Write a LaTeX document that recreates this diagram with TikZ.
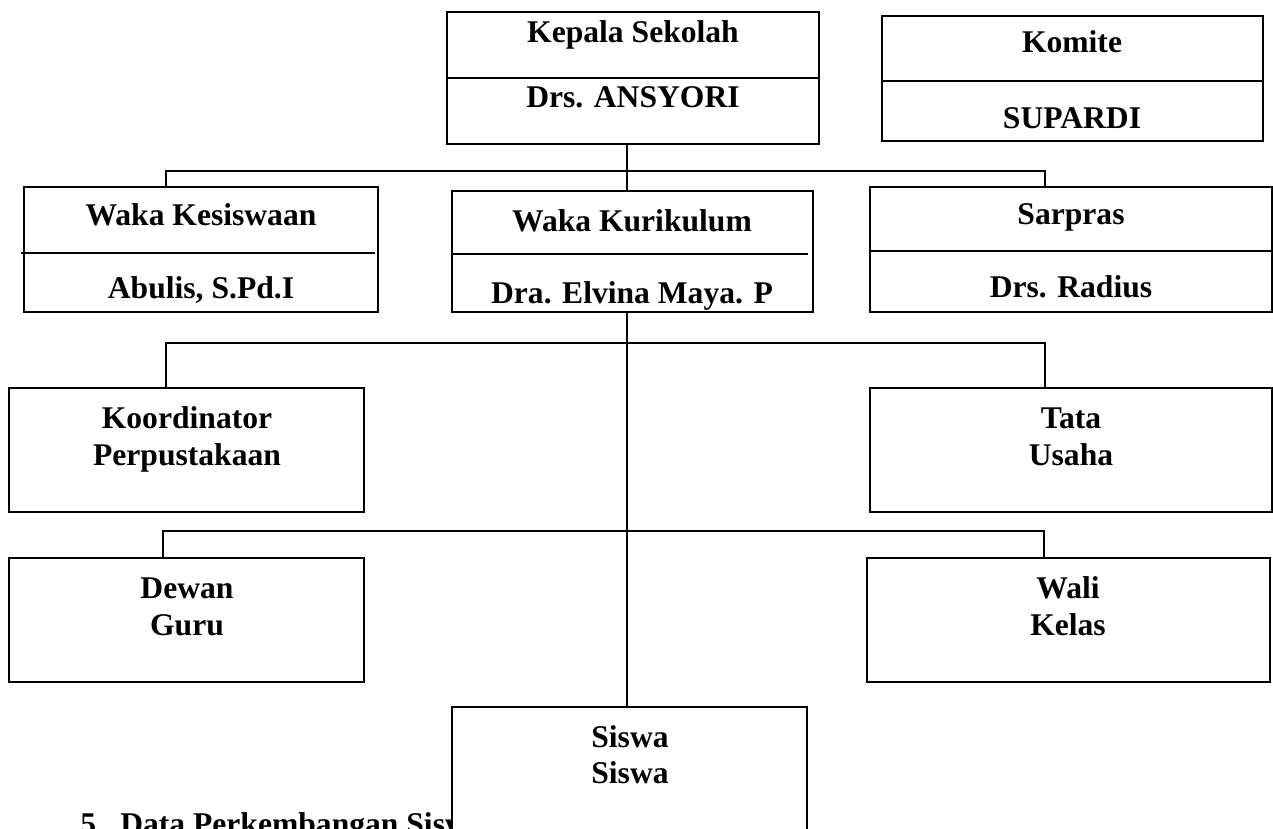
\documentclass[tikz,border=0pt]{standalone}
\usepackage{fontspec}
\setmainfont{Liberation Serif}
\begin{document}
\begin{tikzpicture}[x=0.5pt,y=-0.5pt,
  orgbox/.style={draw, line width=1pt, fill=white, inner sep=0pt, outer sep=0pt, anchor=north west},
  divline/.style={line width=1pt},
  conn/.style={line width=1pt},
  lbl/.style={font=\bfseries\fontsize{15.8}{18.5}\selectfont, inner sep=0pt, anchor=base}]
\useasboundingbox (0,0) rectangle (1273,829);
\clip (0,0) rectangle (1273,829);
\fill[white] (0,0) rectangle (1273,829);

% boxes
\node[orgbox, line width=1.2pt, minimum width=186pt, minimum height=66pt] (kepala) at (447,12) {};
\node[orgbox, line width=1.2pt, minimum width=190.5pt, minimum height=62.5pt] (komite) at (882,16) {};
\node[orgbox, minimum width=177pt, minimum height=62.5pt] (kesiswaan) at (24,187) {};
\node[orgbox, minimum width=180.5pt, minimum height=60.5pt] (kurikulum) at (452,191) {};
\node[orgbox, minimum width=201pt, minimum height=62.5pt] (sarpras) at (870,187) {};
\node[orgbox, minimum width=177.5pt, minimum height=62pt] (koord) at (9,388) {};
\node[orgbox, minimum width=201pt, minimum height=62pt] (tata) at (870,388) {};
\node[orgbox, minimum width=177.5pt, minimum height=62pt] (dewan) at (9,558) {};
\node[orgbox, minimum width=201.5pt, minimum height=62pt] (wali) at (867,558) {};

% dividers
\draw[divline] (447,78) -- (819,78);
\draw[divline] (882,81) -- (1263,81);
\draw[divline] (21,253) -- (375,253);
\draw[divline] (452,254) -- (808,254);
\draw[divline] (870,251) -- (1272,251);

% bottom text (partly hidden by the Siswa box)
\begin{scope}
\clip (0,700) rectangle (451,829);
\node[lbl, anchor=base west] (datatxt) at (80,834) {5.\hspace{8.1pt}Data Perkembangan Siswa};
\end{scope}

\node[orgbox, minimum width=177.5pt, minimum height=100pt] (siswa) at (452,707) {};

% connectors
\coordinate (trunk) at (627,0);
\coordinate (b1L) at (166,171);
\coordinate (b1R) at (1045,171);
\coordinate (b2L) at (166,343);
\coordinate (b2R) at (1045,343);
\coordinate (b3L) at (163,531);
\coordinate (b3R) at (1044,531);
\draw[conn] (kepala.south -| trunk) -- (kurikulum.north -| trunk);
\draw[conn] (kurikulum.south -| trunk) -- (siswa.north -| trunk);
\draw[conn] (kesiswaan.north -| b1L) -- (b1L) -- (b1R) -- (sarpras.north -| b1R);
\draw[conn] (koord.north -| b2L) -- (b2L) -- (b2R) -- (tata.north -| b2R);
\draw[conn] (dewan.north -| b3L) -- (b3L) -- (b3R) -- (wali.north -| b3R);

% labels
\node[lbl] (kepalaA) at (633,43) {Kepala Sekolah};
\node[lbl] (kepalaB) at (633,107) {Drs. ANSYORI};
\node[lbl] (komiteA) at (1072,53) {Komite};
\node[lbl] (komiteB) at (1072,128) {SUPARDI};
\node[lbl] (kesA) at (201,225) {Waka Kesiswaan};
\node[lbl] (kesB) at (201,298) {Abulis, S.Pd.I};
\node[lbl] (kurA) at (632,231) {Waka Kurikulum};
\node[lbl] (kurB) at (632,303) {Dra. Elvina Maya. P};
\node[lbl] (sarA) at (1071,224) {Sarpras};
\node[lbl] (sarB) at (1071,297) {Drs. Radius};
\node[lbl] (koordA) at (187,428) {Koordinator};
\node[lbl] (koordB) at (187,465) {Perpustakaan};
\node[lbl] (tataA) at (1071,428) {Tata};
\node[lbl] (tataB) at (1071,465) {Usaha};
\node[lbl] (dewanA) at (187,598) {Dewan};
\node[lbl] (dewanB) at (187,635) {Guru};
\node[lbl] (waliA) at (1068,598) {Wali};
\node[lbl] (waliB) at (1068,635) {Kelas};
\node[lbl] (siswaA) at (630,747) {Siswa};
\node[lbl] (siswaB) at (630,783) {Siswa};
\end{tikzpicture}
\end{document}
